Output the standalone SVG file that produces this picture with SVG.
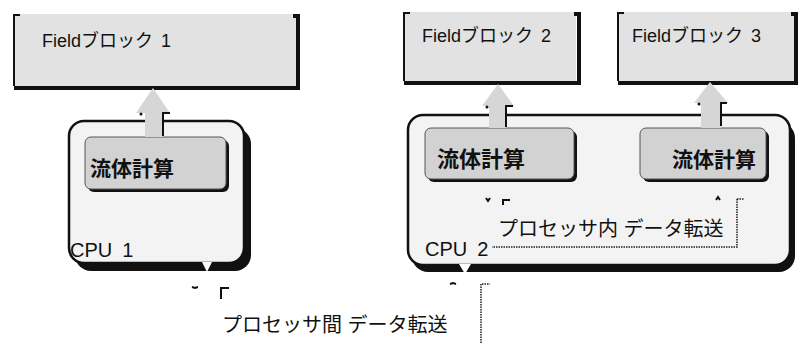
<svg xmlns="http://www.w3.org/2000/svg" width="798" height="343" viewBox="0 0 798 343">
<style>
.t{font-family:"Liberation Sans","Noto Sans CJK JP",sans-serif;fill:#111}
.b{font-weight:bold}
.fb{fill:#e2e2e2}
.cpu{fill:#f3f3f3;stroke:#111;stroke-width:2.5}
.sh{fill:#111}
.calc{fill:#d2d2d2;stroke:#555;stroke-width:1}
.arr{fill:#d6d6d6}
.ln{fill:none;stroke:#111;stroke-width:2}
.thk{fill:none;stroke:#111;stroke-width:4}
.dot{fill:none;stroke:#222;stroke-width:1.5;stroke-dasharray:1.5 1}
</style>
<rect width="798" height="343" fill="#fff"/>

<g id="field1">
<rect class="fb" x="14" y="14" width="282" height="73"/>
<path class="ln" d="M20,15 H14 V86"/>
<path class="thk" d="M14,88 H298 V16 H293"/>
<text class="t" x="42" y="47" font-size="18">Fieldブロック<tspan dx="8">1</tspan></text>
</g>

<g id="field2">
<rect class="fb" x="404" y="12" width="172" height="70"/>
<path class="ln" d="M410,13 H404 V81"/>
<path class="thk" d="M404,83 H579 V14 H574"/>
<text class="t" x="422" y="42" font-size="18">Fieldブロック<tspan dx="8">2</tspan></text>
</g>

<g id="field3">
<rect class="fb" x="618" y="12" width="176" height="70"/>
<path class="ln" d="M624,13 H618 V81"/>
<path class="thk" d="M618,83 H796 V14 H791"/>
<text class="t" x="632" y="42" font-size="18">Fieldブロック<tspan dx="8">3</tspan></text>
</g>

<g id="cpu1">
<rect class="sh" x="75" y="128" width="176" height="143" rx="16"/>
<rect class="cpu" x="69" y="121" width="175" height="142" rx="15"/>
<polygon fill="#fff" points="202,262 212,262 207,272"/>
<text class="t" x="70" y="257" font-size="20">CPU<tspan dx="10">1</tspan></text>
</g>

<g id="cpu2">
<rect class="sh" x="412" y="122" width="383" height="150" rx="16"/>
<rect class="cpu" x="408" y="115" width="382" height="150" rx="15"/>
<polygon fill="#fff" points="459,264 471,264 465,274"/>
<text class="t" x="425" y="256" font-size="20">CPU<tspan dx="10">2</tspan></text>
</g>

<g id="calc1">
<rect class="sh" x="88" y="140" width="141" height="52" rx="6"/>
<rect class="calc" x="85" y="137" width="141" height="52" rx="6"/>
<text class="t b" x="90" y="176" font-size="21">流体計算</text>
</g>

<g id="calc2">
<rect class="sh" x="428" y="131" width="149" height="51" rx="6"/>
<rect class="calc" x="425" y="128" width="149" height="51" rx="6"/>
<text class="t b" x="437" y="167" font-size="22">流体計算</text>
</g>

<g id="calc3">
<rect class="sh" x="643" y="131" width="126" height="51" rx="6"/>
<rect class="calc" x="640" y="128" width="126" height="51" rx="6"/>
<text class="t b" x="672" y="167" font-size="21">流体計算</text>
</g>

<g id="transfer-inner">
<path class="dot" d="M737,199 H744 M737,199 V247 H492"/>
<text class="t" x="498" y="236" font-size="20">プロセッサ内 データ転送</text>
</g>

<g id="transfer-between">
<text class="t" x="222" y="332" font-size="20">プロセッサ間 データ転送</text>
</g>

<g id="connectors">
<polygon class="arr" points="153,88 170,113 163,113 163,137 145,137 145,113 136,113"/>
<path class="ln" d="M163,136 V113 H170"/>
<circle cx="141" cy="114" r="1.5" fill="#111"/>
<polygon class="arr" points="498,84 514,106 506,106 506,128 489,128 489,106 482,106"/>
<path class="ln" d="M506,127 V106 H513"/>
<circle cx="487" cy="107" r="1.5" fill="#111"/>
<polygon class="arr" points="710,82 728,103 721,103 721,128 701,128 701,103 694,103"/>
<path class="ln" d="M721,126 V103 H727"/>
<circle cx="699" cy="104" r="1.5" fill="#111"/>
<path class="ln" stroke-width="1.5" d="M192,287 l3,1 l3,-1"/>
<path class="ln" d="M221,299 V288 H229"/>
<path class="ln" stroke-width="1.5" d="M486,198 l2,3 l2,-3"/>
<path class="ln" stroke-width="1.5" d="M503,205 V200 H510"/>
<path class="ln" stroke-width="1.5" d="M716,200 l2,-3 l2,3"/>
<path class="ln" stroke-width="1.5" d="M450,284 l3,-1 l3,1"/>
<path class="dot" stroke-width="2" d="M481,343 V284 H490"/>
</g>
</svg>
